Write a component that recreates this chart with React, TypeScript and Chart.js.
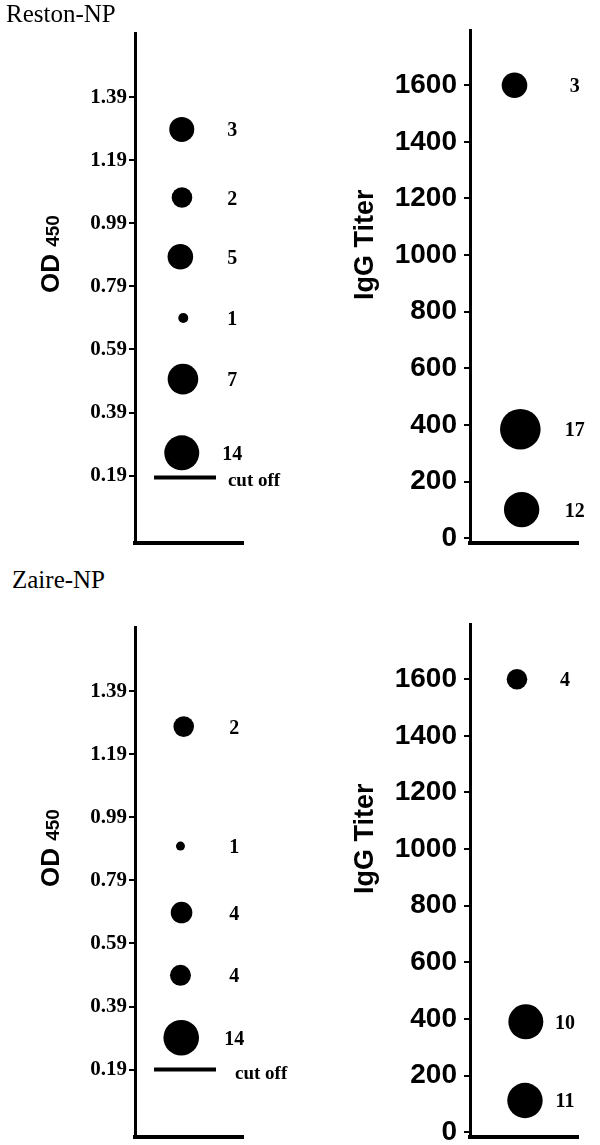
import React, { useEffect, useRef } from 'react';
import { Chart, registerables } from 'chart.js';

Chart.register(...registerables);

// ---- tick labels ----
const odTicks = [0.19, 0.39, 0.59, 0.79, 0.99, 1.19, 1.39];
const titerTicks = [0, 200, 400, 600, 800, 1000, 1200, 1400, 1600];
const odRange = [-0.024, 1.594];
const titerRange = [-17, 1795];

// ---- Reston-NP ----
const restonOdValues = [1.288, 1.072, 0.884, 0.69, 0.496, 0.262];
const restonOdCounts = [3, 2, 5, 1, 7, 14];
const restonOdX = [0.433, 0.435, 0.42, 0.447, 0.444, 0.433];
const restonOdRadius = [12.5, 10.3, 12.8, 5, 15.3, 17.5];
const restonCutoff = 0.184;

const restonTiterValues = [1600, 385, 101];
const restonTiterCounts = [3, 17, 12];
const restonTiterX = [0.412, 0.466, 0.478];
const restonTiterRadius = [12.8, 20.3, 17.7];

// ---- Zaire-NP ----
const zaireOdValues = [1.278, 0.899, 0.688, 0.489, 0.291];
const zaireOdCounts = [2, 1, 4, 4, 14];
const zaireOdX = [0.451, 0.421, 0.431, 0.421, 0.428];
const zaireOdRadius = [10.3, 4.5, 10.8, 10.5, 17.8];
const zaireCutoff = 0.19;

const zaireTiterValues = [1600, 390, 112];
const zaireTiterCounts = [4, 10, 11];
const zaireTiterX = [0.435, 0.517, 0.509];
const zaireTiterRadius = [10.3, 17.5, 17.7];

const cutoffLineX = [0.176, 0.75];

const SERIF = '"Liberation Serif", "Times New Roman", serif';
const SANS = '"Liberation Sans", Arial, sans-serif';

type PanelProps = {
  kind: 'od' | 'titer';
  top: number;
  values: number[];
  counts: number[];
  xs: number[];
  radii: number[];
  labelX: number;
  cutoff?: number;
  cutLabelX?: number;
};

function Panel(props: PanelProps) {
  const ref = useRef<HTMLCanvasElement>(null);
  const isOd = props.kind === 'od';
  const W = 300;
  const H = 551;

  useEffect(() => {
    const areaLeft = isOd ? 135 : 170;
    const areaRight = isOd ? 243 : 278;
    const areaTop = isOd ? 33 : 30;
    const areaBottom = 543;
    const xAxisH = 4;

    const datasets: any[] = [
      {
        label: 'points',
        data: props.values.map((v, i) => ({ x: props.xs[i], y: v })),
        pointRadius: props.radii,
        pointHoverRadius: props.radii,
        pointBackgroundColor: '#000',
        pointBorderWidth: 0,
        backgroundColor: '#000',
        borderColor: '#000',
      },
    ];
    if (props.cutoff !== undefined) {
      datasets.push({
        label: 'cut off',
        data: cutoffLineX.map((x) => ({ x, y: props.cutoff })),
        showLine: true,
        borderColor: '#000',
        borderWidth: 4,
        pointRadius: 0,
        pointHoverRadius: 0,
      });
    }

    const annotate = {
      id: 'annotate',
      afterDatasetsDraw(chart: any) {
        const { ctx, chartArea } = chart;
        const xs = chart.scales.x;
        const ys = chart.scales.y;
        ctx.save();
        ctx.fillStyle = '#000';
        ctx.font = `bold 20px ${SERIF}`;
        ctx.textAlign = 'center';
        ctx.textBaseline = 'alphabetic';
        props.values.forEach((v, i) => {
          ctx.fillText(
            String(props.counts[i]),
            xs.getPixelForValue(props.labelX),
            ys.getPixelForValue(v) + 7
          );
        });
        if (props.cutoff !== undefined) {
          ctx.font = `bold 19px ${SERIF}`;
          ctx.textAlign = 'left';
          ctx.fillText('cut off', xs.getPixelForValue(props.cutLabelX ?? 0.9), ys.getPixelForValue(props.cutoff) + 9);
        }
        // rotated axis title
        if (isOd) {
          ctx.translate(59, chartArea.top + 260);
          ctx.rotate(-Math.PI / 2);
          ctx.textAlign = 'left';
          ctx.font = `bold 26px ${SANS}`;
          ctx.fillText('OD', 0, 0);
          const w = ctx.measureText('OD ').width;
          ctx.font = `bold 19px ${SANS}`;
          ctx.fillText('450', w, 0);
        } else {
          ctx.translate(73, chartArea.top + 270);
          ctx.rotate(-Math.PI / 2);
          ctx.textAlign = 'left';
          ctx.font = `bold 27px ${SANS}`;
          ctx.fillText('IgG Titer', 0, 0);
        }
        ctx.restore();
      },
    };

    const tickVals = isOd ? odTicks : titerTicks;
    const range = isOd ? odRange : titerRange;

    const chart = new Chart(ref.current as HTMLCanvasElement, {
      type: 'scatter',
      data: { datasets },
      options: {
        responsive: false,
        animation: false,
        devicePixelRatio: 1,
        events: [],
        layout: {
          autoPadding: false,
          padding: { left: 0, top: areaTop, right: W - areaRight, bottom: H - areaBottom - xAxisH },
        },
        plugins: {
          legend: { display: false },
          tooltip: { enabled: false },
          title: { display: false },
        },
        scales: {
          x: {
            type: 'linear',
            min: 0,
            max: 1,
            ticks: { display: false },
            grid: { display: false },
            border: { display: true, color: '#000', width: 4 },
            afterFit: (s: any) => {
              s.height = xAxisH;
              s.paddingLeft = 0;
              s.paddingRight = 0;
              s.paddingTop = 0;
              s.paddingBottom = 0;
            },
          },
          y: {
            type: 'linear',
            min: range[0],
            max: range[1],
            afterBuildTicks: (s: any) => {
              s.ticks = tickVals.map((v) => ({ value: v }));
            },
            ticks: {
              autoSkip: false,
              color: '#000',
              padding: isOd ? 2 : 7,
              font: isOd
                ? { family: SERIF, size: 21, weight: 'bold' }
                : { family: SANS, size: 28, weight: 'bold' },
              callback: (v: any) => (isOd ? Number(v).toFixed(2) : String(v)),
            },
            grid: {
              display: true,
              drawOnChartArea: false,
              drawTicks: true,
              tickLength: 6,
              color: '#000',
              lineWidth: 2,
            },
            border: { display: true, color: '#000', width: 3 },
            afterFit: (s: any) => {
              s.width = areaLeft;
              s.paddingTop = 0;
              s.paddingBottom = 0;
              s.paddingLeft = 0;
              s.paddingRight = 0;
            },
          },
        },
      } as any,
      plugins: [annotate],
    });
    return () => chart.destroy();
  }, []);

  return (
    <canvas
      ref={ref}
      width={W}
      height={H}
      style={{ position: 'absolute', left: isOd ? 0 : 300, top: props.top, width: W, height: H, display: 'block' }}
    />
  );
}

const titleStyle: React.CSSProperties = {
  position: 'absolute',
  fontFamily: SERIF,
  fontSize: '25px',
  lineHeight: '25px',
  color: '#000',
  whiteSpace: 'nowrap',
};

export default function App() {
  return (
    <div style={{ position: 'absolute', left: 0, top: 0, width: 600, height: 1145, background: '#fff', overflow: 'hidden' }}>
      <Panel kind="od" top={0} values={restonOdValues} counts={restonOdCounts} xs={restonOdX} radii={restonOdRadius} labelX={0.9} cutoff={restonCutoff} cutLabelX={0.86} />
      <Panel kind="titer" top={0} values={restonTiterValues} counts={restonTiterCounts} xs={restonTiterX} radii={restonTiterRadius} labelX={0.97} />
      <Panel kind="od" top={594} values={zaireOdValues} counts={zaireOdCounts} xs={zaireOdX} radii={zaireOdRadius} labelX={0.92} cutoff={zaireCutoff} cutLabelX={0.926} />
      <Panel kind="titer" top={594} values={zaireTiterValues} counts={zaireTiterCounts} xs={zaireTiterX} radii={zaireTiterRadius} labelX={0.88} />
      <div style={{ ...titleStyle, left: 6, top: 1 }}>Reston-NP</div>
      <div style={{ ...titleStyle, left: 12, top: 567 }}>Zaire-NP</div>
    </div>
  );
}
